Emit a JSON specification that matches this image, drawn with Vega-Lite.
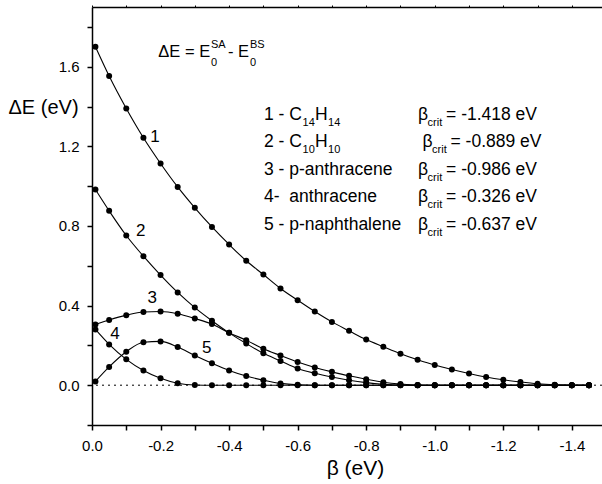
{
  "$schema": "https://vega.github.io/schema/vega-lite/v6.json",
  "width": 510,
  "height": 418,
  "autosize": "none",
  "padding": {"left": 92, "top": 7, "right": 0, "bottom": 59},
  "background": "white",
  "config": {
    "view": {"stroke": null},
    "font": "Liberation Sans",
    "axis": {
      "grid": false,
      "domainColor": "black",
      "domainWidth": 1.5,
      "tickColor": "black",
      "tickWidth": 1.5,
      "tickSize": 5,
      "labelFont": "Liberation Sans",
      "labelColor": "black",
      "labelFontSize": 15,
      "labelFlush": false,
      "labelOverlap": false,
      "titleFont": "Liberation Sans",
      "titleColor": "black",
      "titleFontWeight": "normal"
    },
    "text": {"font": "Liberation Sans", "color": "black"}
  },
  "datasets": {
    "curves": [
      {"s":"1","b":-0.01,"e":1.700},{"s":"1","b":-0.05,"e":1.553},{"s":"1","b":-0.10,"e":1.390},{"s":"1","b":-0.15,"e":1.243},{"s":"1","b":-0.20,"e":1.114},{"s":"1","b":-0.25,"e":0.996},{"s":"1","b":-0.30,"e":0.891},{"s":"1","b":-0.35,"e":0.795},{"s":"1","b":-0.40,"e":0.707},{"s":"1","b":-0.45,"e":0.625},{"s":"1","b":-0.50,"e":0.556},{"s":"1","b":-0.55,"e":0.486},{"s":"1","b":-0.60,"e":0.427},{"s":"1","b":-0.65,"e":0.370},{"s":"1","b":-0.70,"e":0.318},{"s":"1","b":-0.75,"e":0.273},{"s":"1","b":-0.80,"e":0.229},{"s":"1","b":-0.85,"e":0.193},{"s":"1","b":-0.90,"e":0.158},{"s":"1","b":-0.95,"e":0.128},{"s":"1","b":-1.00,"e":0.101},{"s":"1","b":-1.05,"e":0.079},{"s":"1","b":-1.10,"e":0.059},{"s":"1","b":-1.15,"e":0.041},{"s":"1","b":-1.20,"e":0.027},{"s":"1","b":-1.25,"e":0.016},{"s":"1","b":-1.30,"e":0.007},{"s":"1","b":-1.35,"e":0.002},{"s":"1","b":-1.40,"e":0.0},{"s":"1","b":-1.45,"e":0.0},
      {"s":"2","b":-0.01,"e":0.983},{"s":"2","b":-0.05,"e":0.876},{"s":"2","b":-0.10,"e":0.752},{"s":"2","b":-0.15,"e":0.648},{"s":"2","b":-0.20,"e":0.553},{"s":"2","b":-0.25,"e":0.466},{"s":"2","b":-0.30,"e":0.390},{"s":"2","b":-0.35,"e":0.324},{"s":"2","b":-0.40,"e":0.263},{"s":"2","b":-0.45,"e":0.209},{"s":"2","b":-0.50,"e":0.160},{"s":"2","b":-0.55,"e":0.122},{"s":"2","b":-0.60,"e":0.084},{"s":"2","b":-0.65,"e":0.060},{"s":"2","b":-0.70,"e":0.041},{"s":"2","b":-0.75,"e":0.025},{"s":"2","b":-0.80,"e":0.013},{"s":"2","b":-0.85,"e":0.005},{"s":"2","b":-0.90,"e":0.001},{"s":"2","b":-0.95,"e":0.0},{"s":"2","b":-1.00,"e":0.0},{"s":"2","b":-1.05,"e":0.0},{"s":"2","b":-1.10,"e":0.0},{"s":"2","b":-1.15,"e":0.0},{"s":"2","b":-1.20,"e":0.0},{"s":"2","b":-1.25,"e":0.0},{"s":"2","b":-1.30,"e":0.0},{"s":"2","b":-1.35,"e":0.0},{"s":"2","b":-1.40,"e":0.0},{"s":"2","b":-1.45,"e":0.0},
      {"s":"3","b":-0.01,"e":0.305},{"s":"3","b":-0.05,"e":0.328},{"s":"3","b":-0.10,"e":0.352},{"s":"3","b":-0.15,"e":0.368},{"s":"3","b":-0.20,"e":0.370},{"s":"3","b":-0.25,"e":0.359},{"s":"3","b":-0.30,"e":0.335},{"s":"3","b":-0.35,"e":0.307},{"s":"3","b":-0.40,"e":0.263},{"s":"3","b":-0.45,"e":0.226},{"s":"3","b":-0.50,"e":0.183},{"s":"3","b":-0.55,"e":0.149},{"s":"3","b":-0.60,"e":0.116},{"s":"3","b":-0.65,"e":0.089},{"s":"3","b":-0.70,"e":0.067},{"s":"3","b":-0.75,"e":0.047},{"s":"3","b":-0.80,"e":0.030},{"s":"3","b":-0.85,"e":0.015},{"s":"3","b":-0.90,"e":0.006},{"s":"3","b":-0.95,"e":0.001},{"s":"3","b":-1.00,"e":0.0},{"s":"3","b":-1.05,"e":0.0},{"s":"3","b":-1.10,"e":0.0},{"s":"3","b":-1.15,"e":0.0},{"s":"3","b":-1.20,"e":0.0},{"s":"3","b":-1.25,"e":0.0},{"s":"3","b":-1.30,"e":0.0},{"s":"3","b":-1.35,"e":0.0},{"s":"3","b":-1.40,"e":0.0},{"s":"3","b":-1.45,"e":0.0},
      {"s":"4","b":-0.01,"e":0.280},{"s":"4","b":-0.05,"e":0.205},{"s":"4","b":-0.10,"e":0.130},{"s":"4","b":-0.15,"e":0.074},{"s":"4","b":-0.20,"e":0.035},{"s":"4","b":-0.25,"e":0.010},{"s":"4","b":-0.30,"e":0.001},{"s":"4","b":-0.35,"e":0.0},{"s":"4","b":-0.40,"e":0.0},{"s":"4","b":-0.45,"e":0.0},{"s":"4","b":-0.50,"e":0.0},{"s":"4","b":-0.55,"e":0.0},{"s":"4","b":-0.60,"e":0.0},{"s":"4","b":-0.65,"e":0.0},{"s":"4","b":-0.70,"e":0.0},{"s":"4","b":-0.75,"e":0.0},{"s":"4","b":-0.80,"e":0.0},{"s":"4","b":-0.85,"e":0.0},{"s":"4","b":-0.90,"e":0.0},{"s":"4","b":-0.95,"e":0.0},{"s":"4","b":-1.00,"e":0.0},{"s":"4","b":-1.05,"e":0.0},{"s":"4","b":-1.10,"e":0.0},{"s":"4","b":-1.15,"e":0.0},{"s":"4","b":-1.20,"e":0.0},{"s":"4","b":-1.25,"e":0.0},{"s":"4","b":-1.30,"e":0.0},{"s":"4","b":-1.35,"e":0.0},{"s":"4","b":-1.40,"e":0.0},{"s":"4","b":-1.45,"e":0.0},
      {"s":"5","b":-0.01,"e":0.019},{"s":"5","b":-0.05,"e":0.092},{"s":"5","b":-0.10,"e":0.168},{"s":"5","b":-0.15,"e":0.216},{"s":"5","b":-0.20,"e":0.220},{"s":"5","b":-0.25,"e":0.192},{"s":"5","b":-0.30,"e":0.149},{"s":"5","b":-0.35,"e":0.110},{"s":"5","b":-0.40,"e":0.074},{"s":"5","b":-0.45,"e":0.046},{"s":"5","b":-0.50,"e":0.025},{"s":"5","b":-0.55,"e":0.009},{"s":"5","b":-0.60,"e":0.002},{"s":"5","b":-0.65,"e":0.0},{"s":"5","b":-0.70,"e":0.0},{"s":"5","b":-0.75,"e":0.0},{"s":"5","b":-0.80,"e":0.0},{"s":"5","b":-0.85,"e":0.0},{"s":"5","b":-0.90,"e":0.0},{"s":"5","b":-0.95,"e":0.0},{"s":"5","b":-1.00,"e":0.0},{"s":"5","b":-1.05,"e":0.0},{"s":"5","b":-1.10,"e":0.0},{"s":"5","b":-1.15,"e":0.0},{"s":"5","b":-1.20,"e":0.0},{"s":"5","b":-1.25,"e":0.0},{"s":"5","b":-1.30,"e":0.0},{"s":"5","b":-1.35,"e":0.0},{"s":"5","b":-1.40,"e":0.0},{"s":"5","b":-1.45,"e":0.0}
    ],
    "ann": [
      {"k":"n","b":-0.1838,"e":1.2484,"t":"1"},
      {"k":"n","b":-0.1421,"e":0.7722,"t":"2"},
      {"k":"n","b":-0.1760,"e":0.4366,"t":"3"},
      {"k":"n","b":-0.0671,"e":0.2572,"t":"4"},
      {"k":"n","b":-0.3347,"e":0.1854,"t":"5"},
      {"k":"f","b":-0.1935,"e":1.6503,"t":"ΔE = E"},
      {"k":"f","b":-0.3968,"e":1.6503,"t":"- E"},
      {"k":"fs","b":-0.3473,"e":1.6925,"t":"SA"},
      {"k":"fs","b":-0.3473,"e":1.6036,"t":"0"},
      {"k":"fs","b":-0.4610,"e":1.6925,"t":"BS"},
      {"k":"fs","b":-0.4610,"e":1.6036,"t":"0"},
      {"k":"L","b":-0.5019,"e":1.3323,"t":"1 - C"},
      {"k":"Ls","b":-0.6142,"e":1.3025,"t":"14"},
      {"k":"L","b":-0.6507,"e":1.3323,"t":"H"},
      {"k":"Ls","b":-0.6887,"e":1.3025,"t":"14"},
      {"k":"L","b":-0.9513,"e":1.3323,"t":"β"},
      {"k":"Ls","b":-0.9790,"e":1.3025,"t":"crit"},
      {"k":"L","b":-1.0330,"e":1.3323,"t":"= -1.418 eV"},
      {"k":"L","b":-0.5019,"e":1.1942,"t":"2 - C"},
      {"k":"Ls","b":-0.6142,"e":1.1640,"t":"10"},
      {"k":"L","b":-0.6507,"e":1.1942,"t":"H"},
      {"k":"Ls","b":-0.6887,"e":1.1640,"t":"10"},
      {"k":"L","b":-0.9644,"e":1.1942,"t":"β"},
      {"k":"Ls","b":-0.9921,"e":1.1640,"t":"crit"},
      {"k":"L","b":-1.0461,"e":1.1942,"t":"= -0.889 eV"},
      {"k":"L","b":-0.5019,"e":1.0560,"t":"3 - p-anthracene"},
      {"k":"L","b":-0.9513,"e":1.0560,"t":"β"},
      {"k":"Ls","b":-0.9790,"e":1.0259,"t":"crit"},
      {"k":"L","b":-1.0330,"e":1.0560,"t":"= -0.986 eV"},
      {"k":"L","b":-0.5019,"e":0.9179,"t":"4-\u00a0 anthracene"},
      {"k":"L","b":-0.9513,"e":0.9179,"t":"β"},
      {"k":"Ls","b":-0.9790,"e":0.8877,"t":"crit"},
      {"k":"L","b":-1.0330,"e":0.9179,"t":"= -0.326 eV"},
      {"k":"L","b":-0.5019,"e":0.7797,"t":"5 - p-naphthalene"},
      {"k":"L","b":-0.9513,"e":0.7797,"t":"β"},
      {"k":"Ls","b":-0.9790,"e":0.7495,"t":"crit"},
      {"k":"L","b":-1.0330,"e":0.7797,"t":"= -0.637 eV"}
    ]
  },
  "layer": [
    {
      "data": {"name": "curves"},
      "mark": {"type": "line", "interpolate": "monotone", "strokeWidth": 1.1, "color": "black"},
      "encoding": {
        "x": {
          "field": "b", "type": "quantitative",
          "scale": {"domain": [-1.488, 0], "reverse": true, "nice": false, "zero": false},
          "axis": {
            "orient": "bottom",
            "values": [0, -0.1, -0.2, -0.3, -0.4, -0.5, -0.6, -0.7, -0.8, -0.9, -1.0, -1.1, -1.2, -1.3, -1.4],
            "labelExpr": "abs(round(datum.value*10)) % 2 == 0 ? replace(format(datum.value, '.1f'), '\u2212', '-') : ''",
            "labelPadding": 8,
            "labelFontSize": 15,
            "title": "β (eV)",
            "titleFontSize": 21,
            "titleX": 263,
            "titleY": 49,
            "titleAlign": "center",
            "titleBaseline": "alphabetic"
          }
        },
        "y": {
          "field": "e", "type": "quantitative",
          "scale": {"domain": [-0.2, 1.9], "nice": false, "zero": false},
          "axis": {
            "values": [-0.2, 0, 0.2, 0.4, 0.6, 0.8, 1.0, 1.2, 1.4, 1.6, 1.8],
            "labelExpr": "abs(round(datum.value*10)) % 4 == 0 ? replace(format(datum.value, '.1f'), '\u2212', '-') : ''",
            "labelPadding": 8,
            "labelFontSize": 15,
            "title": "ΔE (eV)",
            "titleFontSize": 20,
            "titleAngle": 0,
            "titleX": -84,
            "titleY": 106,
            "titleAlign": "left",
            "titleBaseline": "alphabetic"
          }
        },
        "detail": {"field": "s"},
        "order": {"field": "b", "sort": "descending"}
      }
    },
    {
      "data": {"values": [{}]},
      "mark": {"type": "rule", "strokeDash": [2, 4], "strokeWidth": 1, "color": "black"},
      "encoding": {
        "y": {"datum": 0, "type": "quantitative", "scale": {"domain": [-0.2, 1.9], "nice": false, "zero": false}}
      }
    },
    {
      "data": {"name": "curves"},
      "mark": {"type": "circle", "size": 36, "opacity": 1, "color": "black"},
      "encoding": {
        "x": {
          "field": "b", "type": "quantitative",
          "scale": {"domain": [-1.488, 0], "reverse": true, "nice": false, "zero": false},
          "axis": {
            "orient": "top",
            "values": [0, -0.1, -0.2, -0.3, -0.4, -0.5, -0.6, -0.7, -0.8, -0.9, -1.0, -1.1, -1.2, -1.3, -1.4],
            "labels": false,
            "tickSize": 2,
            "tickWidth": 1,
            "title": null
          }
        },
        "y": {"field": "e", "type": "quantitative", "scale": {"domain": [-0.2, 1.9], "nice": false, "zero": false}}
      }
    },
    {
      "data": {"name": "ann"},
      "transform": [{"filter": "datum.k == 'n'"}],
      "mark": {"type": "text", "fontSize": 17, "align": "center", "baseline": "middle"},
      "encoding": {
        "x": {"field": "b", "type": "quantitative", "scale": {"domain": [-1.488, 0], "reverse": true, "nice": false, "zero": false}, "axis": null},
        "y": {"field": "e", "type": "quantitative", "scale": {"domain": [-0.2, 1.9], "nice": false, "zero": false}},
        "text": {"field": "t"}
      }
    },
    {
      "data": {"name": "ann"},
      "transform": [{"filter": "datum.k == 'f'"}],
      "mark": {"type": "text", "fontSize": 16.5, "align": "left", "baseline": "alphabetic"},
      "encoding": {
        "x": {"field": "b", "type": "quantitative", "scale": {"domain": [-1.488, 0], "reverse": true, "nice": false, "zero": false}, "axis": null},
        "y": {"field": "e", "type": "quantitative", "scale": {"domain": [-0.2, 1.9], "nice": false, "zero": false}},
        "text": {"field": "t"}
      }
    },
    {
      "data": {"name": "ann"},
      "transform": [{"filter": "datum.k == 'fs'"}],
      "mark": {"type": "text", "fontSize": 11, "align": "left", "baseline": "alphabetic"},
      "encoding": {
        "x": {"field": "b", "type": "quantitative", "scale": {"domain": [-1.488, 0], "reverse": true, "nice": false, "zero": false}, "axis": null},
        "y": {"field": "e", "type": "quantitative", "scale": {"domain": [-0.2, 1.9], "nice": false, "zero": false}},
        "text": {"field": "t"}
      }
    },
    {
      "data": {"name": "ann"},
      "transform": [{"filter": "datum.k == 'L'"}],
      "mark": {"type": "text", "fontSize": 17.5, "align": "left", "baseline": "alphabetic"},
      "encoding": {
        "x": {"field": "b", "type": "quantitative", "scale": {"domain": [-1.488, 0], "reverse": true, "nice": false, "zero": false}, "axis": null},
        "y": {"field": "e", "type": "quantitative", "scale": {"domain": [-0.2, 1.9], "nice": false, "zero": false}},
        "text": {"field": "t"}
      }
    },
    {
      "data": {"name": "ann"},
      "transform": [{"filter": "datum.k == 'Ls'"}],
      "mark": {"type": "text", "fontSize": 11, "align": "left", "baseline": "alphabetic"},
      "encoding": {
        "x": {"field": "b", "type": "quantitative", "scale": {"domain": [-1.488, 0], "reverse": true, "nice": false, "zero": false}, "axis": null},
        "y": {"field": "e", "type": "quantitative", "scale": {"domain": [-0.2, 1.9], "nice": false, "zero": false}},
        "text": {"field": "t"}
      }
    }
  ],
  "resolve": {"axis": {"x": "independent"}}
}
